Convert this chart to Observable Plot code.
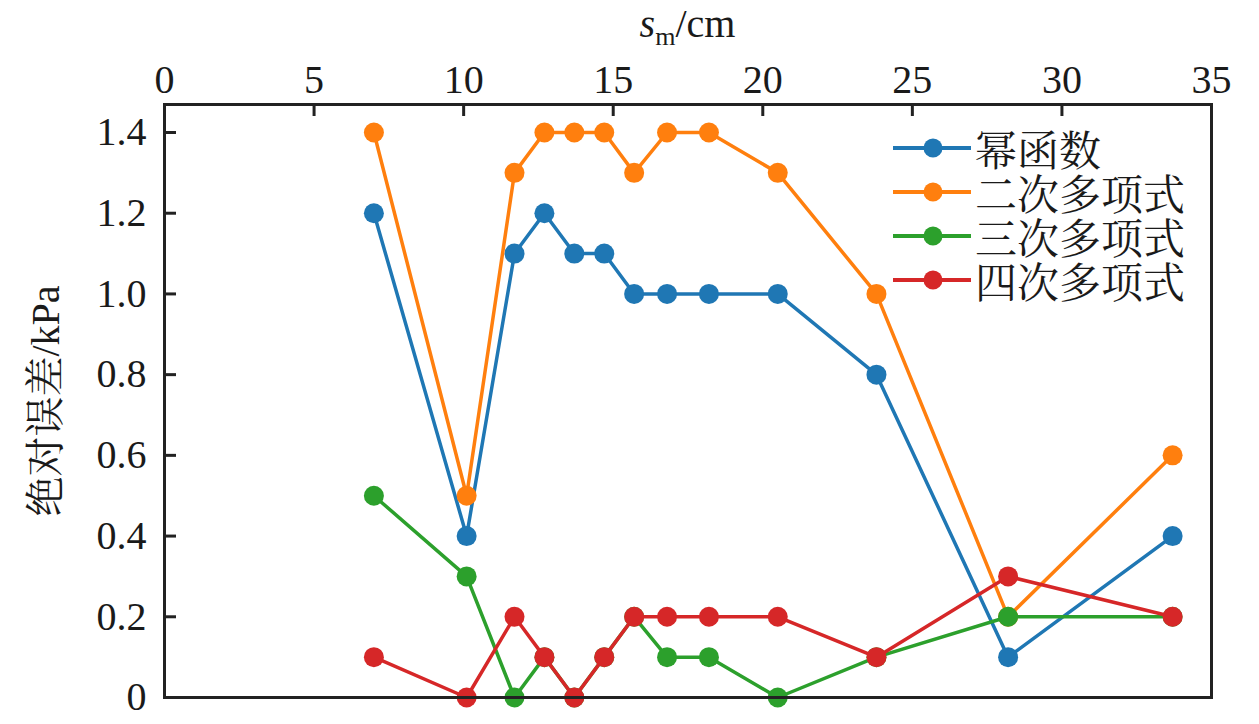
<!DOCTYPE html>
<html>
<head>
<meta charset="utf-8">
<script src="https://cdn.jsdelivr.net/npm/d3@7"></script>
<script src="https://cdn.jsdelivr.net/npm/@observablehq/plot@0.6"></script>
<style>
  html, body { margin: 0; padding: 0; background: #fff; }
  #wrap { position: relative; width: 1259px; height: 724px; overflow: hidden; }
  #xtitle { position: absolute; left: 0; width: 1375px; top: 0px; text-align: center;
    font-family: "Liberation Serif", "Times New Roman", serif; font-size: 40px; color: #1a1a1a; line-height: 48px; }
  #xtitle sub { font-size: 26px; vertical-align: -8px; line-height: 0; }
  #legend { position: absolute; left: 892px; top: 126px; font-family: "Noto Serif CJK SC", "Noto Sans CJK SC", serif; font-size: 42px; color: #1a1a1a; }
  .row { display: flex; align-items: center; height: 44px; }
  .row span { line-height: 1; }
  .row svg { margin-right: 3px; }
</style>
</head>
<body>
<div id="wrap">
  <div id="chart"></div>
  <div id="xtitle"><i>s</i><sub>m</sub>/cm</div>
  <div id="legend"></div>
</div>
<script>
const xs = [7.0, 10.1, 11.7, 12.7, 13.7, 14.7, 15.7, 16.8, 18.2, 20.5, 23.8, 28.2, 33.7];
const seriesNames = ["幂函数", "二次多项式", "三次多项式", "四次多项式"];
const powerFn = [1.2, 0.4, 1.1, 1.2, 1.1, 1.1, 1.0, 1.0, 1.0, 1.0, 0.8, 0.1, 0.4];
const quadratic = [1.4, 0.5, 1.3, 1.4, 1.4, 1.4, 1.3, 1.4, 1.4, 1.3, 1.0, 0.2, 0.6];
const cubic = [0.5, 0.3, 0.0, 0.1, 0.0, 0.1, 0.2, 0.1, 0.1, 0.0, 0.1, 0.2, 0.2];
const quartic = [0.1, 0.0, 0.2, 0.1, 0.0, 0.1, 0.2, 0.2, 0.2, 0.2, 0.1, 0.3, 0.2];
const colors = ["#1f77b4", "#ff7f0e", "#2ca02c", "#d62728"];
const xTicks = [0, 5, 10, 15, 20, 25, 30, 35];
const yTicks = [0, 0.2, 0.4, 0.6, 0.8, 1.0, 1.2, 1.4];
const yLabel = "绝对误差/kPa";

const allValues = [powerFn, quadratic, cubic, quartic];
const data = [];
allValues.forEach((vals, si) => vals.forEach((v, i) => data.push({series: seriesNames[si], x: xs[i], y: v})));

const serifFont = '"Liberation Serif", "Times New Roman", "Noto Serif CJK SC", "Noto Sans CJK SC", serif';

const W = 1259, H = 724, mL = 164, mR = 48, mT = 104, mB = 27;
const tickLen = 12;
const xDomain = [0, 35];
const yDomain = [0, 1.4 * 593 / 565];

const marks = [];
seriesNames.forEach((name, si) => {
  const d = data.filter(r => r.series === name);
  marks.push(Plot.line(d, {x: "x", y: "y", stroke: colors[si], strokeWidth: 3.5}));
  marks.push(Plot.dot(d, {x: "x", y: "y", r: 10, fill: colors[si], stroke: "none"}));
});

const chart = Plot.plot({
  width: W,
  height: H,
  marginLeft: mL,
  marginRight: mR,
  marginTop: mT,
  marginBottom: mB,
  style: {fontFamily: serifFont, fontSize: "40px", color: "#1a1a1a", background: "#fff", overflow: "visible"},
  x: {domain: xDomain},
  y: {domain: yDomain},
  marks: [
    Plot.axisX({anchor: "top", ticks: xTicks, tickSize: 0, tickPadding: 12, tickFormat: d => String(d), label: null, fontSize: 40}),
    Plot.axisY({anchor: "left", ticks: yTicks, tickSize: 0, tickPadding: 18, tickFormat: d => d === 0 ? "0" : d.toFixed(1), label: null, fontSize: 40}),
    Plot.tickX(xTicks, {x: d => d, stroke: "#222", strokeWidth: 3, insetBottom: (H - mT - mB) - tickLen}),
    Plot.tickY(yTicks, {y: d => d, stroke: "#222", strokeWidth: 3, insetRight: (W - mL - mR) - tickLen}),
    Plot.text([yLabel], {text: d => d, frameAnchor: "left", rotate: -90, dx: -118, fontSize: 40, fill: "#1a1a1a", textAnchor: "middle"}),
    ...marks,
    Plot.frame({stroke: "#222", strokeWidth: 3})
  ]
});
document.getElementById("chart").appendChild(chart);

const legend = document.getElementById("legend");
seriesNames.forEach((name, si) => {
  const row = document.createElement("div");
  row.className = "row";
  row.innerHTML = `<svg width="80" height="24"><line x1="1" y1="12" x2="79" y2="12" stroke="${colors[si]}" stroke-width="4"/><circle cx="41" cy="12" r="9.5" fill="${colors[si]}"/></svg><span>${name}</span>`;
  legend.appendChild(row);
});
</script>
</body>
</html>
